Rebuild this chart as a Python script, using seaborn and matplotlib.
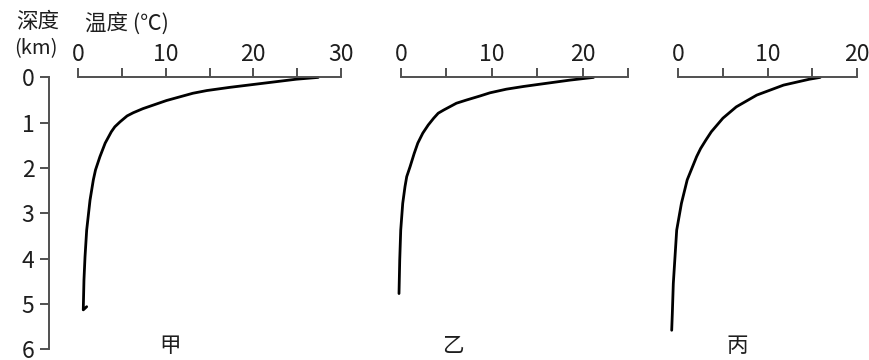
import matplotlib
matplotlib.use("Agg")
import matplotlib.pyplot as plt
import seaborn as sns

# ---- data ----
depth_ticks = [0, 1, 2, 3, 4, 5, 6]

jia_temp = [27.4, 24.9, 21.1, 17.3, 14.7, 13.1, 11.6, 10.1, 8.6, 7.4, 6.3, 5.6, 4.8, 4.2,
            3.8, 3.1, 2.5, 2.0, 1.75, 1.37, 0.99, 0.8, 0.68, 0.6, 0.99]
jia_depth = [0.0, 0.04, 0.13, 0.22, 0.29, 0.35, 0.43, 0.51, 0.61, 0.69, 0.78, 0.85, 0.98, 1.09,
             1.20, 1.45, 1.75, 2.04, 2.26, 2.71, 3.37, 3.96, 4.47, 5.13, 5.06]

yi_temp = [21.2, 18.6, 15.3, 13.5, 11.6, 9.8, 8.7, 7.2, 6.1, 4.7, 4.1, 3.6, 3.0, 2.4, 1.85,
           1.45, 1.0, 0.63, 0.44, 0.19, -0.03, -0.14, -0.22]
yi_depth = [0.0, 0.06, 0.15, 0.20, 0.26, 0.34, 0.41, 0.50, 0.57, 0.72, 0.79, 0.90, 1.05, 1.23, 1.45,
            1.68, 1.97, 2.19, 2.41, 2.78, 3.37, 4.03, 4.77]

bing_temp = [15.9, 14.7, 11.8, 8.8, 6.5, 5.0, 3.7, 3.1, 2.5, 2.05, 1.0, 0.35, -0.18, -0.37,
             -0.56, -0.67, -0.74]
bing_depth = [0.0, 0.04, 0.17, 0.39, 0.65, 0.90, 1.20, 1.38, 1.57, 1.75, 2.26, 2.78, 3.37, 3.96,
              4.55, 5.21, 5.58]

panels = [
    ("甲", jia_temp, jia_depth, 30, [0, 5, 10, 15, 20, 25, 30]),
    ("乙", yi_temp, yi_depth, 25, [0, 5, 10, 15, 20, 25]),
    ("丙", bing_temp, bing_depth, 20, [0, 5, 10, 15, 20]),
]

# ---- style ----
sns.set_theme(style="white")
plt.rcParams["font.family"] = ["Noto Sans CJK SC", "DejaVu Sans"]

W, H = 869, 360
fig = plt.figure(figsize=(W / 100, H / 100), dpi=100)

def fx(px):
    return px / W

def fy(py):
    return 1 - py / H

y_top, y_bot = 77.4, 349.3
ax_px = [(78, 341), (401, 628), (678.3, 856.7)]
spine_col = "#505050"
text_col = "#1e1e1e"
fs = 16.5

for i, ((name, temp, depth, xmax, xt), (x0, x1)) in enumerate(zip(panels, ax_px)):
    ax = fig.add_axes([fx(x0), fy(y_bot), fx(x1 - x0), (y_bot - y_top) / H])
    sns.lineplot(x=temp, y=depth, sort=False, estimator=None, color="black",
                 lw=2.0, ax=ax, clip_on=False,
                 solid_joinstyle="round", solid_capstyle="round")
    ax.set_xlim(0, xmax)
    ax.set_ylim(6, 0)
    ax.xaxis.tick_top()
    ax.set_xticks(xt)
    ax.set_xticklabels([str(v) if v % 10 == 0 else "" for v in xt])
    ax.tick_params(axis="x", which="major", direction="out", length=6.5, width=1.4,
                   color=spine_col, pad=1.5, labelsize=fs, labelcolor=text_col,
                   top=True, bottom=False)
    for s in ["bottom", "right"]:
        ax.spines[s].set_visible(False)
    ax.spines["top"].set_color(spine_col)
    ax.spines["top"].set_linewidth(1.4)
    if i == 0:
        ax.spines["left"].set_position(("outward", 29 * 0.72))
        ax.spines["left"].set_color(spine_col)
        ax.spines["left"].set_linewidth(1.4)
        ax.set_yticks(depth_ticks)
        ax.set_yticklabels([str(v) for v in depth_ticks])
        ax.tick_params(axis="y", direction="out", length=6.5, width=1.4,
                       color=spine_col, pad=4, labelsize=fs, labelcolor=text_col,
                       left=True)
    else:
        ax.spines["left"].set_visible(False)
        ax.set_yticks([])
    ax.set_xlabel("")
    ax.set_ylabel("")
    ax.patch.set_alpha(0)

# texts
fig.text(fx(38), fy(22), "深度", ha="center", va="center", fontsize=15.5, color=text_col)
fig.text(fx(36), fy(49), "(km)", ha="center", va="center", fontsize=14.5, color=text_col)
fig.text(fx(85), fy(24), "温度 (℃)", ha="left", va="center", fontsize=15.5, color=text_col)
for name, cx in zip(["甲", "乙", "丙"], [170, 453, 737]):
    fig.text(fx(cx), fy(346), name, ha="center", va="center", fontsize=15.5, color=text_col)

fig.savefig("out.png", dpi=100)
